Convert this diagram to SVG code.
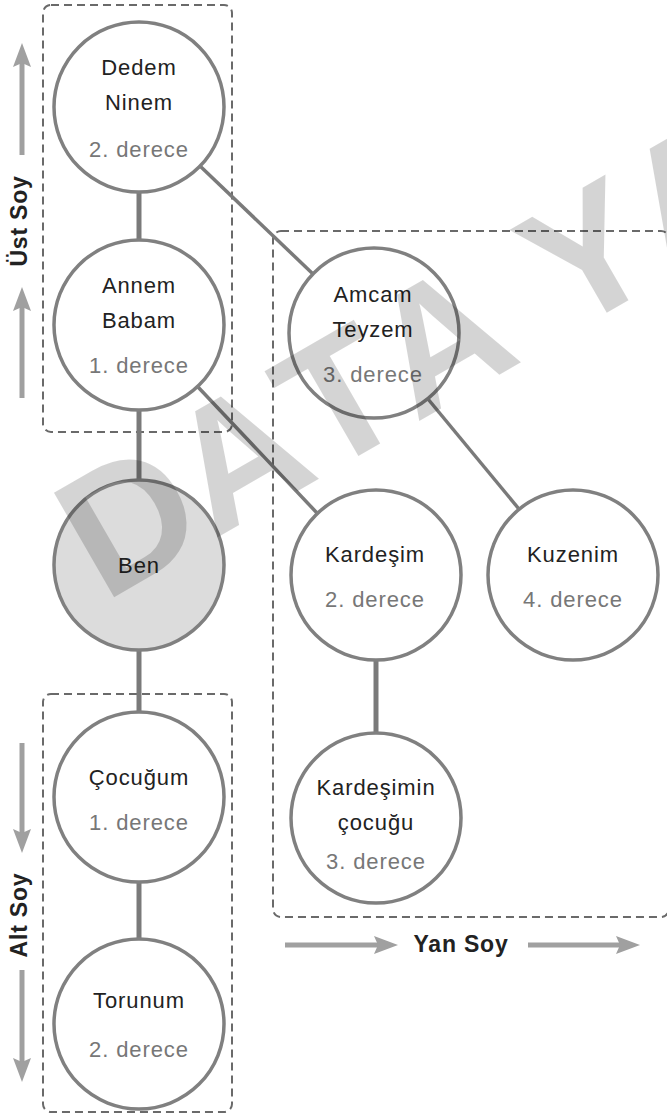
<svg xmlns="http://www.w3.org/2000/svg" width="667" height="1116" viewBox="0 0 667 1116">
<style>
.bg{fill:#ffffff}
.node{fill:#ffffff;stroke:#808080;stroke-width:3.5}
.me{fill:#dcdcdc;stroke:#808080;stroke-width:3.5}
.name{font-family:"Liberation Sans",Arial,sans-serif;font-size:22px;fill:#222222;text-anchor:middle;letter-spacing:0.9px}
.deg{font-family:"Liberation Sans",Arial,sans-serif;font-size:22px;fill:#777777;text-anchor:middle;letter-spacing:0.9px}
.label{font-family:"Liberation Sans",Arial,sans-serif;font-size:23px;font-weight:bold;fill:#222222;text-anchor:middle;letter-spacing:0.8px}
.vline{stroke:#7a7a7a;stroke-width:5;fill:none}
.dline{stroke:#7a7a7a;stroke-width:3.5;fill:none}
.group{fill:none;stroke:#6a6a6a;stroke-width:2;stroke-dasharray:8 5}
.shaft{stroke:#a0a0a0;stroke-width:5;fill:none}
.head{fill:#a0a0a0}
.wm{font-family:"Liberation Sans",Arial,sans-serif;font-size:175px;font-weight:bold;fill:#000000;fill-opacity:0.17;font-kerning:none;font-feature-settings:"kern" 0}
</style>
<rect class="bg" x="0" y="0" width="667" height="1116"/>

<g id="groups">
  <rect id="ust-soy-box" class="group" x="43" y="5" width="189" height="427" rx="8"/>
  <rect id="alt-soy-box" class="group" x="43" y="694" width="189" height="418" rx="8"/>
  <rect id="yan-soy-box" class="group" x="273" y="231" width="396" height="686" rx="8"/>
</g>

<g id="connectors">
  <line class="vline" x1="139" y1="192" x2="139" y2="240"/>
  <line class="vline" x1="139" y1="410" x2="139" y2="480"/>
  <line class="vline" x1="139" y1="650" x2="139" y2="712"/>
  <line class="vline" x1="139" y1="882" x2="139" y2="939"/>
  <line class="vline" x1="376" y1="660" x2="376" y2="733"/>
  <line class="dline" x1="200" y1="166" x2="313" y2="274"/>
  <line class="dline" x1="198" y1="387" x2="317" y2="513"/>
  <line class="dline" x1="428" y1="399" x2="519" y2="509"/>
</g>

<g id="node-dedem">
  <circle class="node" cx="139" cy="107" r="85"/>
  <text class="name" x="139" y="75">Dedem</text>
  <text class="name" x="139" y="110">Ninem</text>
  <text class="deg" x="139" y="157">2. derece</text>
</g>
<g id="node-annem">
  <circle class="node" cx="139" cy="325" r="85"/>
  <text class="name" x="139" y="293">Annem</text>
  <text class="name" x="139" y="328">Babam</text>
  <text class="deg" x="139" y="373">1. derece</text>
</g>
<g id="node-ben">
  <circle class="me" cx="139" cy="565" r="85"/>
  <text class="name" x="139" y="573">Ben</text>
</g>
<g id="node-cocugum">
  <circle class="node" cx="139" cy="797" r="85"/>
  <text class="name" x="139" y="785">Çocuğum</text>
  <text class="deg" x="139" y="830">1. derece</text>
</g>
<g id="node-torunum">
  <circle class="node" cx="139" cy="1024" r="85"/>
  <text class="name" x="139" y="1008">Torunum</text>
  <text class="deg" x="139" y="1057">2. derece</text>
</g>
<g id="node-amcam">
  <circle class="node" cx="374" cy="333" r="85"/>
  <text class="name" x="373" y="302">Amcam</text>
  <text class="name" x="373" y="337">Teyzem</text>
  <text class="deg" x="373" y="382">3. derece</text>
</g>
<g id="node-kardesim">
  <circle class="node" cx="376" cy="575" r="85"/>
  <text class="name" x="375" y="562">Kardeşim</text>
  <text class="deg" x="375" y="607">2. derece</text>
</g>
<g id="node-kuzenim">
  <circle class="node" cx="573" cy="575" r="85"/>
  <text class="name" x="573" y="562">Kuzenim</text>
  <text class="deg" x="573" y="607">4. derece</text>
</g>
<g id="node-kardesimin-cocugu">
  <circle class="node" cx="376" cy="818" r="85"/>
  <text class="name" x="376" y="795">Kardeşimin</text>
  <text class="name" x="376" y="830">çocuğu</text>
  <text class="deg" x="376" y="869">3. derece</text>
</g>

<g id="ust-soy-label">
  <line class="shaft" x1="22" y1="155" x2="22" y2="60"/>
  <path class="head" d="M22 43 L31 67 L22 63 L13 67 Z"/>
  <line class="shaft" x1="22" y1="398" x2="22" y2="304"/>
  <path class="head" d="M22 287 L31 311 L22 307 L13 311 Z"/>
  <text class="label" transform="translate(27 221) rotate(-90)">Üst Soy</text>
</g>
<g id="alt-soy-label">
  <line class="shaft" x1="22" y1="743" x2="22" y2="836"/>
  <path class="head" d="M22 853 L31 829 L22 833 L13 829 Z"/>
  <line class="shaft" x1="22" y1="970" x2="22" y2="1065"/>
  <path class="head" d="M22 1082 L31 1058 L22 1062 L13 1058 Z"/>
  <text class="label" transform="translate(27 915) rotate(-90)">Alt Soy</text>
</g>
<g id="yan-soy-label">
  <line class="shaft" x1="285" y1="945" x2="381" y2="945"/>
  <path class="head" d="M398 945 L374 936 L378 945 L374 954 Z"/>
  <line class="shaft" x1="528" y1="945" x2="623" y2="945"/>
  <path class="head" d="M640 945 L616 936 L620 945 L616 954 Z"/>
  <text class="label" x="461" y="952">Yan Soy</text>
</g>

<text class="wm" x="104" y="603" transform="rotate(-30 104 603)">DATA YA</text>
</svg>
